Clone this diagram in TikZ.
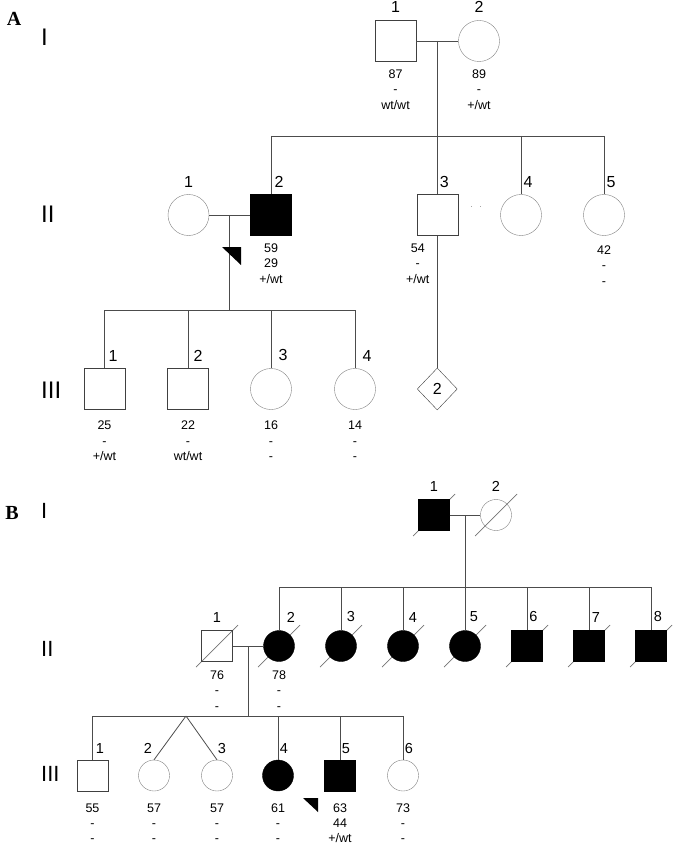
\documentclass[tikz,border=0pt]{standalone}
\usepackage{fontspec}
\setmainfont{Liberation Sans}
\newfontfamily\letterfont{Liberation Serif}
\usetikzlibrary{positioning,calc,shapes.geometric,backgrounds}

\begin{document}
\begin{tikzpicture}[x=1pt,y=-1pt,
	male/.style={draw=black!75,rectangle,minimum size=41pt,inner sep=0pt},
	female/.style={draw=black!50,circle,minimum size=41pt,inner sep=0pt},
	smallmale/.style={male,minimum size=31pt},
	smallfemale/.style={female,minimum size=31pt},
	affected/.style={fill=black,draw=black},
	kin/.style={draw=black!70,line width=0.8pt},
	slash/.style={draw=black!55,line width=0.7pt},
	num/.style={inner sep=0pt,font=\fontsize{16}{16}\selectfont},
	smallnum/.style={inner sep=0pt,font=\fontsize{14.5}{14.5}\selectfont},
	info/.style={inner sep=0pt,align=center,font=\fontsize{12.5}{15.5}\selectfont},
	gen/.style={inner sep=0pt,anchor=west,font=\fontsize{24}{24}\selectfont},
	smallgen/.style={gen,font=\fontsize{22}{22}\selectfont},
	panel/.style={inner sep=0pt,font=\letterfont\bfseries\fontsize{20}{20}\selectfont}]
	\useasboundingbox (0,0) rectangle (675,845);

	\node[panel] (A) at (14,18.5) {A};
	\node[gen] (a_I) at (41,37) {I};
	\node[gen] (a_II) at (41,214) {II};
	\node[gen] (a_III) at (41,390) {III};

	\node[male] (a1_1) at (395.5,41) {};
	\node[female] (a1_2) at (479,41) {};
	\node[female] (a2_1) at (188.5,215) {};
	\node[male,affected] (a2_2) at (271,215) {};
	\node[male] (a2_3) at (437.25,215) {};
	\node[female] (a2_4) at (521,215) {};
	\node[female] (a2_5) at (604,215) {};
	\node[male] (a3_1) at (104.5,389) {};
	\node[male] (a3_2) at (188,389) {};
	\node[female] (a3_3) at (271,389) {};
	\node[female] (a3_4) at (355,389) {};
	\node[diamond,draw=black!75,minimum width=40pt,minimum height=42pt,inner sep=0pt,
		font=\fontsize{16}{16}\selectfont] (a3_d) at (437.25,389) {2};

	\coordinate (a1_m) at ($(a1_1)!0.5!(a1_2)$);
	\coordinate (a1_s) at (437.25,136);
	\coordinate (a2_m) at ($(a2_1)!0.5!(a2_2)$);
	\coordinate (a2_s) at (a2_m |- 0,310);

	\path[kin]
	(a1_1) edge (a1_2)
	(a1_m) edge (a2_3)
	(a2_2 |- a1_s) edge (a2_5 |- a1_s)
	foreach \n in {a2_2,a2_4,a2_5} {(\n |- a1_s) edge (\n)}

	(a2_1) edge (a2_2)
	(a2_m) edge (a2_s)
	(a3_1 |- a2_s) edge (a3_4 |- a2_s)
	foreach \n in {a3_1,a3_2,a3_3,a3_4} {(\n |- a2_s) edge (\n)}

	(a2_3) edge (a3_d);

	\draw[black!35,line width=1pt,dash pattern=on 1pt off 8pt] (471,206) -- (482,206);
	\fill (222,247) -- (241,247) -- (241,265) -- cycle;

	\node[num,above=8pt of a1_1] (a1_1n) {1};
	\node[num,above=8pt of a1_2] (a1_2n) {2};
	\node[num,above=6.5pt of a2_1] (a2_1n) {1};
	\node[num,above=6.5pt of a2_2,xshift=8pt] (a2_2n) {2};
	\node[num,above=6.5pt of a2_3,xshift=7pt] (a2_3n) {3};
	\node[num,above=6.5pt of a2_4,xshift=7pt] (a2_4n) {4};
	\node[num,above=6.5pt of a2_5,xshift=7pt] (a2_5n) {5};
	\node[num,above=7pt of a3_1,xshift=8.5pt] (a3_1n) {1};
	\node[num,above=7pt of a3_2,xshift=10pt] (a3_2n) {2};
	\node[num,above=7pt of a3_3,xshift=12pt] (a3_3n) {3};
	\node[num,above=7pt of a3_4,xshift=12pt] (a3_4n) {4};

	\node[info,below=7.7pt of a1_1] (a1_1t) {87\\-\\wt/wt};
	\node[info,below=7.7pt of a1_2] (a1_2t) {89\\-\\+/wt};
	\node[info,below=7.7pt of a2_2] (a2_2t) {59\\29\\+/wt};
	\node[info,below=7.7pt of a2_3,xshift=-19.5pt] (a2_3t) {54\\-\\+/wt};
	\node[info,below=9.5pt of a2_5] (a2_5t) {42\\-\\-};
	\node[info,below=11pt of a3_1] (a3_1t) {25\\-\\+/wt};
	\node[info,below=11pt of a3_2] (a3_2t) {22\\-\\wt/wt};
	\node[info,below=11pt of a3_3] (a3_3t) {16\\-\\-};
	\node[info,below=11pt of a3_4] (a3_4t) {14\\-\\-};

	\node[panel] (B) at (12,513) {B};
	\node[smallgen] (b_I) at (41,510.5) {I};
	\node[smallgen] (b_II) at (41,649) {II};
	\node[smallgen] (b_III) at (41,774) {III};

	\node[smallmale,affected] (b1_1) at (434,515) {};
	\node[smallfemale] (b1_2) at (496,515) {};
	\node[smallmale] (b2_1) at (217,646) {};
	\node[smallfemale,affected] (b2_2) at (279,646) {};
	\node[smallfemale,affected] (b2_3) at (341,646) {};
	\node[smallfemale,affected] (b2_4) at (403,646) {};
	\node[smallfemale,affected] (b2_5) at (465,646) {};
	\node[smallmale,affected] (b2_6) at (527,646) {};
	\node[smallmale,affected] (b2_7) at (589,646) {};
	\node[smallmale,affected] (b2_8) at (651,646) {};
	\node[smallmale] (b3_1) at (92.5,775.5) {};
	\node[smallfemale] (b3_2) at (154,775.5) {};
	\node[smallfemale] (b3_3) at (217,775.5) {};
	\node[smallfemale,affected] (b3_4) at (278,775.5) {};
	\node[smallmale,affected] (b3_5) at (340,775.5) {};
	\node[smallfemale] (b3_6) at (403,775.5) {};

	\begin{scope}[on background layer]
	\foreach \n in {b1_1,b1_2,b2_1,b2_2,b2_3,b2_4,b2_5,b2_6,b2_7,b2_8}
		\draw[slash] ($(\n)+(-21pt,-21pt)$) -- ($(\n)+(21pt,21pt)$);
	\end{scope}

	\coordinate (b1_m) at ($(b1_1)!0.5!(b1_2)$);
	\coordinate (b1_s) at (b1_m |- 0,587);
	\coordinate (b2_m) at ($(b2_1)!0.5!(b2_2)$);
	\coordinate (b2_s) at (b2_m |- 0,716);
	\coordinate (b3_t) at (186,716);

	\path[kin]
	(b1_1) edge (b1_2)
	(b1_m) edge (b2_5)
	(b2_2 |- b1_s) edge (b2_8 |- b1_s)
	foreach \n in {b2_2,b2_3,b2_4,b2_6,b2_7,b2_8} {(\n |- b1_s) edge (\n)}

	(b2_1) edge (b2_2)
	(b2_m) edge (b2_s)
	(b3_1 |- b2_s) edge (b3_6 |- b2_s)
	foreach \n in {b3_1,b3_4,b3_5,b3_6} {(\n |- b2_s) edge (\n)}
	(b3_t) edge (b3_2.north)
	(b3_t) edge (b3_3.north);

	\fill (303,798) -- (318,798) -- (318,812) -- cycle;

	\node[smallnum,above=8pt of b1_1] (b1_1n) {1};
	\node[smallnum,above=8pt of b1_2] (b1_2n) {2};
	\node[smallnum,above=8pt of b2_1] (b2_1n) {1};
	\node[smallnum,above=8pt of b2_2,xshift=12pt] (b2_2n) {2};
	\node[smallnum,above=8pt of b2_3,xshift=10pt] (b2_3n) {3};
	\node[smallnum,above=8pt of b2_4,xshift=10pt] (b2_4n) {4};
	\node[smallnum,above=8pt of b2_5,xshift=9pt] (b2_5n) {5};
	\node[smallnum,above=8pt of b2_6,xshift=6.5pt] (b2_6n) {6};
	\node[smallnum,above=8pt of b2_7,xshift=7pt] (b2_7n) {7};
	\node[smallnum,above=8pt of b2_8,xshift=7pt] (b2_8n) {8};
	\node[smallnum,above=6pt of b3_1,xshift=7.5pt] (b3_1n) {1};
	\node[smallnum,above=6pt of b3_2,xshift=-6pt] (b3_2n) {2};
	\node[smallnum,above=6pt of b3_3,xshift=5pt] (b3_3n) {3};
	\node[smallnum,above=6pt of b3_4,xshift=6pt] (b3_4n) {4};
	\node[smallnum,above=6pt of b3_5,xshift=6pt] (b3_5n) {5};
	\node[smallnum,above=6pt of b3_6,xshift=6pt] (b3_6n) {6};

	\node[info,below=8.7pt of b2_1] (b2_1t) {76\\-\\-};
	\node[info,below=8.7pt of b2_2] (b2_2t) {78\\-\\-};
	\begin{scope}[info/.append style={font=\fontsize{12.5}{15}\selectfont}]
	\node[info,below=12pt of b3_1] (b3_1t) {55\\-\\-};
	\node[info,below=12pt of b3_2] (b3_2t) {57\\-\\-};
	\node[info,below=12pt of b3_3] (b3_3t) {57\\-\\-};
	\node[info,below=12pt of b3_4] (b3_4t) {61\\-\\-};
	\node[info,below=12pt of b3_5] (b3_5t) {63\\44\\+/wt};
	\node[info,below=12pt of b3_6] (b3_6t) {73\\-\\-};
	\end{scope}

\end{tikzpicture}
\end{document}
